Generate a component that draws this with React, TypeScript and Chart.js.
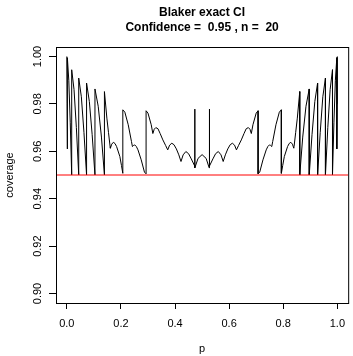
import React, { useEffect, useRef } from 'react';
import { Chart, registerables } from 'chart.js';

Chart.register(...registerables);

const titleLines = ['Blaker exact CI', 'Confidence =  0.95 , n =  20'];
const xLabel = 'p';
const yLabel = 'coverage';
const xTicks = [0, 0.2, 0.4, 0.6, 0.8, 1.0];
const xTickLabels = ['0.0', '0.2', '0.4', '0.6', '0.8', '1.0'];
const yTicks = [0.9, 0.92, 0.94, 0.96, 0.98, 1.0];
const yTickLabels = ['0.90', '0.92', '0.94', '0.96', '0.98', '1.00'];
const xMin = -0.04;
const xMax = 1.04;
const yMin = 0.896;
const yMax = 1.004;
const confLevel = 0.95;

// coverage curve (p, coverage)
const pValues = [
  0, 0.001, 0.002, 0.002, 0.0073, 0.0127, 0.018, 0.018, 0.0267, 0.0353, 0.044,
  0.044, 0.0537, 0.0633, 0.073, 0.073, 0.0833, 0.0937, 0.104, 0.104, 0.116, 0.128,
  0.139, 0.139, 0.148, 0.154, 0.16, 0.161, 0.166, 0.172, 0.178, 0.184, 0.196, 0.202,
  0.207, 0.207, 0.2145, 0.227, 0.239, 0.2425, 0.247, 0.251, 0.257, 0.263, 0.275,
  0.287, 0.293, 0.293, 0.3, 0.312, 0.318, 0.323, 0.329, 0.337, 0.345, 0.355, 0.365,
  0.373, 0.38, 0.388, 0.396, 0.405, 0.414, 0.422, 0.43, 0.44, 0.45, 0.46, 0.4727,
  0.4727, 0.4737, 0.485, 0.5,
  0.515, 0.5263, 0.5273, 0.5273, 0.54, 0.55, 0.56, 0.57, 0.578, 0.586, 0.595, 0.604,
  0.612, 0.62, 0.627, 0.635, 0.645, 0.655, 0.663, 0.671, 0.677, 0.682, 0.688, 0.7,
  0.707, 0.707, 0.713, 0.725, 0.737, 0.743, 0.749, 0.753, 0.7575, 0.761, 0.773,
  0.7855, 0.793, 0.793, 0.798, 0.804, 0.816, 0.822, 0.828, 0.834, 0.839, 0.84, 0.846,
  0.852, 0.861, 0.861, 0.872, 0.884, 0.896, 0.896, 0.9063, 0.9167, 0.927, 0.927,
  0.9367, 0.9463, 0.956, 0.956, 0.9647, 0.9733, 0.982, 0.982, 0.9873, 0.9927, 0.998,
  0.998, 0.999, 1.0,
];
const coverage = [
  1.0, 0.98, 0.961, 0.9995, 0.99, 0.972, 0.95, 0.9944, 0.986, 0.97, 0.95,
  0.9909, 0.983, 0.968, 0.95, 0.9888, 0.981, 0.967, 0.95, 0.9863, 0.979, 0.966,
  0.95, 0.9852, 0.974, 0.968, 0.962, 0.9613, 0.963, 0.9638, 0.9633, 0.962, 0.9578, 0.954,
  0.9507, 0.9775, 0.9765, 0.9712, 0.9641, 0.962, 0.9625, 0.9627, 0.962, 0.9606, 0.9564,
  0.9512, 0.9505, 0.9771, 0.9761, 0.9712, 0.9675, 0.9693, 0.97, 0.9695, 0.9675, 0.9648, 0.9625,
  0.9606, 0.9626, 0.9634, 0.9628, 0.961, 0.9585, 0.9557, 0.9585, 0.9599, 0.959, 0.9568, 0.9538,
  0.9778, 0.953, 0.957, 0.9586,
  0.957, 0.953, 0.9778, 0.9538, 0.9568, 0.959, 0.9599, 0.9585, 0.9557, 0.9585, 0.961, 0.9628,
  0.9634, 0.9626, 0.9606, 0.9625, 0.9648, 0.9675, 0.9695, 0.97, 0.9693, 0.9675, 0.9712, 0.9761,
  0.9771, 0.9505, 0.9512, 0.9564, 0.9606, 0.962, 0.9627, 0.9625, 0.962, 0.9641, 0.9712,
  0.9765, 0.9775, 0.9507, 0.954, 0.9578, 0.962, 0.9633, 0.9638, 0.963, 0.9613, 0.962, 0.968,
  0.974, 0.9852, 0.95, 0.966, 0.979, 0.9863, 0.95, 0.967, 0.981, 0.9888, 0.95,
  0.968, 0.983, 0.9909, 0.95, 0.97, 0.986, 0.9944, 0.95, 0.972, 0.99, 0.9995,
  0.961, 0.98, 1.0,
];

const FONT = '"Liberation Sans", Arial, Helvetica, sans-serif';

export default function App() {
  const ref = useRef<HTMLCanvasElement | null>(null);

  useEffect(() => {
    document.body.style.margin = '0';
    const canvas = ref.current;
    if (!canvas) return;

    const rPlugin = {
      id: 'rDecor',
      afterDraw(chart: any) {
        const { ctx, chartArea: a, scales } = chart;
        ctx.save();
        ctx.strokeStyle = '#000';
        ctx.lineWidth = 1;
        ctx.strokeRect(Math.round(a.left) + 0.5, Math.round(a.top) + 0.5, a.right - a.left, a.bottom - a.top);
        ctx.fillStyle = '#000';
        ctx.font = `11px ${FONT}`;
        ctx.textAlign = 'center';
        ctx.textBaseline = 'middle';
        yTicks.forEach((v, i) => {
          const y = scales.y.getPixelForValue(v);
          ctx.save();
          ctx.translate(37.5, y);
          ctx.rotate(-Math.PI / 2);
          ctx.fillText(yTickLabels[i], 0, 0);
          ctx.restore();
        });
        const cx = (a.left + a.right) / 2;
        ctx.font = `bold 12px ${FONT}`;
        ctx.fillText(titleLines[0], cx, 13);
        ctx.fillText(titleLines[1], cx, 28);
        ctx.restore();
      },
    };

    const chart = new Chart(canvas, {
      type: 'line',
      data: {
        datasets: [
          {
            data: [
              { x: xMin, y: confLevel },
              { x: xMax, y: confLevel },
            ],
            borderColor: '#ff0000',
            borderWidth: 1,
            pointRadius: 0,
            tension: 0,
            order: 0,
          },
          {
            data: pValues.map((p, i) => ({ x: p, y: coverage[i] })),
            borderColor: '#000000',
            borderWidth: 1,
            pointRadius: 0,
            tension: 0,
            order: 1,
          },
        ],
      },
      options: {
        animation: false,
        responsive: false,
        maintainAspectRatio: false,
        devicePixelRatio: 1,
        layout: { padding: { top: 47, right: 0, bottom: 0, left: 0 } },
        plugins: {
          legend: { display: false },
          tooltip: { enabled: false },
          title: { display: false },
        },
        scales: {
          x: {
            type: 'linear',
            position: 'bottom',
            min: xMin,
            max: xMax,
            afterBuildTicks: (s: any) => {
              s.ticks = xTicks.map((v) => ({ value: v }));
            },
            afterFit: (s: any) => {
              s.height = 53;
            },
            grid: { display: true, drawOnChartArea: false, drawTicks: true, tickLength: 6, color: '#000', lineWidth: 1 },
            border: { display: false },
            ticks: {
              color: '#000',
              font: { family: FONT, size: 11 },
              padding: 8,
              maxRotation: 0,
              minRotation: 0,
              autoSkip: false,
              callback: (_v: any, i: number) => xTickLabels[i],
            },
            title: { display: true, text: xLabel, color: '#000', font: { family: FONT, size: 11 }, padding: { top: 0, bottom: 0 } },
          },
          y: {
            type: 'linear',
            position: 'left',
            min: yMin,
            max: yMax,
            afterBuildTicks: (s: any) => {
              s.ticks = yTicks.map((v) => ({ value: v }));
            },
            afterFit: (s: any) => {
              s.width = 56;
            },
            grid: { display: true, drawOnChartArea: false, drawTicks: true, tickLength: 7, color: '#000', lineWidth: 1 },
            border: { display: false },
            ticks: { display: false },
            title: { display: true, text: yLabel, color: '#000', font: { family: FONT, size: 11 }, padding: { top: 3, bottom: 0 } },
          },
        },
      },
      plugins: [rPlugin],
    } as any);

    return () => chart.destroy();
  }, []);

  return (
    <div style={{ position: 'absolute', left: 0, top: 0, width: 353, height: 356, background: '#fff' }}>
      <canvas ref={ref} width={353} height={356} style={{ display: 'block', width: 353, height: 356 }} />
    </div>
  );
}
